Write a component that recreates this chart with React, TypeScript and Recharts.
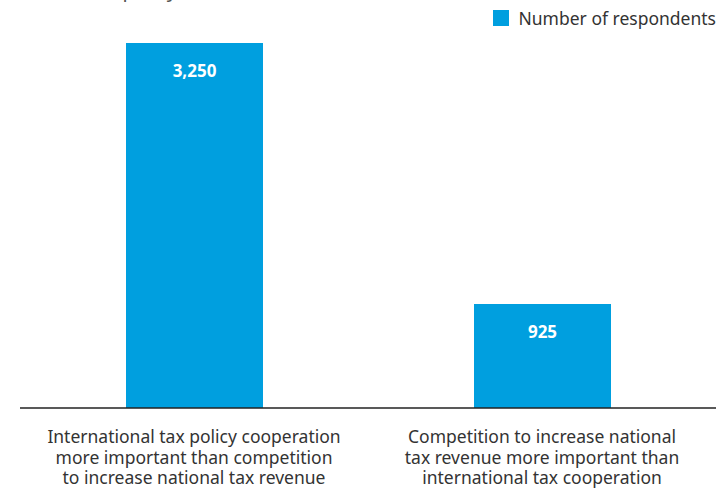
import { BarChart, Bar, XAxis, YAxis, Legend, LabelList } from 'recharts'

const categories = [
  'International tax policy cooperation\nmore important than competition\nto increase national tax revenue',
  'Competition to increase national\ntax revenue more important than\ninternational tax cooperation',
]
const respondents = [3250, 925]
const seriesName = 'Number of respondents'

const data = categories.map((c, i) => ({ category: c, value: respondents[i] }))

const BLUE = '#009fdf'
const FONT = '"Noto Sans", Lato, sans-serif'

function CategoryTick(props: any) {
  const { x, y, payload } = props
  const lines = String(payload.value).split('\n')
  return (
    <g transform={`translate(${x},${y})`}>
      {lines.map((line: string, i: number) => (
        <text key={i} x={0} y={27 + i * 20.5} textAnchor="middle" fontSize={17.5} fill="#333" fontFamily={FONT}>
          {line}
        </text>
      ))}
    </g>
  )
}

function LegendBox() {
  return (
    <div style={{ display: 'flex', alignItems: 'center', justifyContent: 'flex-end', fontFamily: FONT, fontSize: 17.5, color: '#333' }}>
      <span style={{ display: 'inline-block', width: 16, height: 16, background: BLUE, marginRight: 10 }} />
      {seriesName}
    </div>
  )
}

export default function App() {
  return (
    <div style={{ position: 'absolute', left: 0, top: 0, width: 718, height: 488, overflow: 'hidden', background: '#fff' }}>
      <div style={{ position: 'absolute', left: 0, top: -24, fontFamily: FONT, fontSize: 20, color: '#555' }}>
        Views on tax policy
      </div>
      <BarChart width={718} height={488} data={data} margin={{ top: 19, right: 2, left: 20, bottom: 0 }}>
        <XAxis
          dataKey="category"
          height={80}
          interval={0}
          tickLine={false}
          axisLine={{ stroke: '#222', strokeWidth: 1.5 }}
          tick={<CategoryTick />}
        />
        <YAxis hide domain={[0, 3250]} />
        <Legend
          verticalAlign="top"
          align="right"
          content={<LegendBox />}
          wrapperStyle={{ top: 6, right: 2, width: 300 }}
        />
        <Bar dataKey="value" name={seriesName} fill={BLUE} barSize={137} isAnimationActive={false}>
          <LabelList
            dataKey="value"
            position="insideTop"
            offset={22}
            formatter={(v: any) => Number(v).toLocaleString('en-US')}
            fill="#fff"
            fontSize={17}
            fontWeight={700}
            fontFamily={FONT}
          />
        </Bar>
      </BarChart>
    </div>
  )
}
